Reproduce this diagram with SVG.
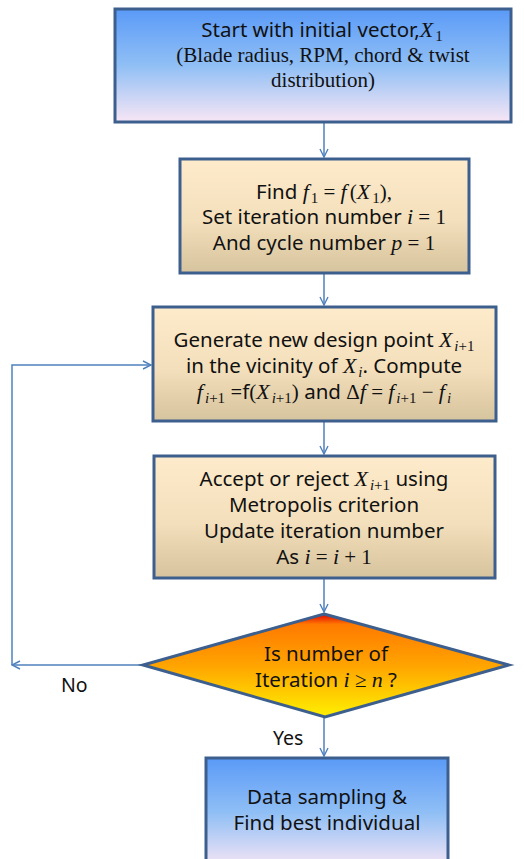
<svg xmlns="http://www.w3.org/2000/svg" width="524" height="859" viewBox="0 0 524 859">
  <defs>
    <linearGradient id="gBlue" x1="0" y1="0" x2="0" y2="1">
      <stop offset="0" stop-color="#5a9af7"/>
      <stop offset="0.5" stop-color="#90bff5"/>
      <stop offset="1" stop-color="#f8e6f5"/>
    </linearGradient>
    <linearGradient id="gTan" x1="0" y1="0" x2="0" y2="1">
      <stop offset="0" stop-color="#feebcb"/>
      <stop offset="0.55" stop-color="#f3dfbb"/>
      <stop offset="1" stop-color="#d6c49e"/>
    </linearGradient>
    <linearGradient id="gDiamond" x1="0" y1="0" x2="0" y2="1">
      <stop offset="0" stop-color="#e00000"/>
      <stop offset="0.1" stop-color="#ff7a00"/>
      <stop offset="0.5" stop-color="#ffa400"/>
      <stop offset="1" stop-color="#fff000"/>
    </linearGradient>
    <marker id="arr" viewBox="0 0 10 10" refX="9" refY="5" markerWidth="10" markerHeight="10" markerUnits="userSpaceOnUse" orient="auto">
      <path d="M1,1 L9,5 L1,9" fill="none" stroke="#4f81bd" stroke-width="1.4"/>
    </marker>
    <style>
      .box { stroke: #3d5f8e; stroke-width: 3; }
      .t { font-family: "Noto Sans", "Open Sans", "DejaVu Sans", sans-serif; font-size: 20.5px; fill: #111; text-anchor: middle; }
      .sf { font-family: "Liberation Serif", "DejaVu Serif", serif; font-size: 21px; fill: #111; text-anchor: middle; }
      .m { font-family: "Liberation Serif", "DejaVu Serif", serif; font-style: italic; font-size: 22px; }
      .mu { font-family: "Liberation Serif", "DejaVu Serif", serif; font-size: 21px; }
      .s { font-family: "Liberation Serif", "DejaVu Serif", serif; font-size: 15px; }
      .si { font-family: "Liberation Serif", "DejaVu Serif", serif; font-style: italic; font-size: 15px; }
      .lbl { font-family: "Noto Sans", "Open Sans", "DejaVu Sans", sans-serif; font-size: 19.5px; fill: #111; }
      .c { fill: none; stroke: #4f81bd; stroke-width: 1.5; }
    </style>
  </defs>

  <!-- flow arrows, loop-back path and branch labels -->
  <g id="connectors">
    <line class="c" x1="324" y1="123" x2="324" y2="157" marker-end="url(#arr)"/>
    <line class="c" x1="324" y1="274" x2="324" y2="305" marker-end="url(#arr)"/>
    <line class="c" x1="324" y1="422" x2="324" y2="454" marker-end="url(#arr)"/>
    <line class="c" x1="324" y1="579" x2="324" y2="612" marker-end="url(#arr)"/>
    <line class="c" x1="324" y1="718" x2="324" y2="756" marker-end="url(#arr)"/>
    <line class="c" x1="142" y1="665" x2="12" y2="665" marker-end="url(#arr)"/>
    <polyline class="c" points="12,665 12,365 151,365" marker-end="url(#arr)"/>
    <text class="lbl" x="61" y="692">No</text>
    <text class="lbl" x="273" y="745">Yes</text>
  </g>

  <g id="start">
    <rect class="box" x="115" y="9" width="396" height="113" fill="url(#gBlue)"/>
    <text class="t" x="322" y="37">Start with initial vector,<tspan class="m">X</tspan><tspan class="s" dx="2" dy="4">1</tspan></text>
    <text class="sf" x="323" y="62">(Blade radius, RPM, chord &amp; twist</text>
    <text class="sf" x="323" y="87">distribution)</text>
  </g>

  <g id="init">
    <rect class="box" x="180" y="159" width="289" height="114" fill="url(#gTan)"/>
    <text class="t" x="324" y="199">Find <tspan class="m">f</tspan><tspan class="s" dx="2" dy="4">1</tspan><tspan class="mu" dy="-4"> = </tspan><tspan class="m">f</tspan><tspan class="mu" dx="3">(</tspan><tspan class="m">X</tspan><tspan class="s" dx="2" dy="4">1</tspan><tspan class="mu" dy="-4">),</tspan></text>
    <text class="t" x="324" y="224">Set iteration number <tspan class="m">i</tspan><tspan class="mu"> = 1</tspan></text>
    <text class="t" x="324" y="250">And cycle number <tspan class="m">p</tspan><tspan class="mu"> = 1</tspan></text>
  </g>

  <g id="generate">
    <rect class="box" x="153" y="307" width="343" height="114" fill="url(#gTan)"/>
    <text class="t" x="324" y="347">Generate new design point <tspan class="m">X</tspan><tspan class="si" dx="2" dy="4">i</tspan><tspan class="s">+1</tspan></text>
    <text class="t" x="324" y="373">in the vicinity of <tspan class="m">X</tspan><tspan class="si" dx="2" dy="4">i</tspan><tspan dy="-4">. Compute</tspan></text>
    <text class="t" x="324" y="399"><tspan class="m">f</tspan><tspan class="si" dx="2" dy="4">i</tspan><tspan class="s">+1</tspan><tspan dy="-4"> =f</tspan><tspan class="mu">(</tspan><tspan class="m">X</tspan><tspan class="si" dx="2" dy="4">i</tspan><tspan class="s">+1</tspan><tspan class="mu" dy="-4">)</tspan> and <tspan class="mu">Δ</tspan><tspan class="m">f</tspan><tspan class="mu"> = </tspan><tspan class="m">f</tspan><tspan class="si" dx="2" dy="4">i</tspan><tspan class="s">+1</tspan><tspan class="mu" dy="-4"> − </tspan><tspan class="m">f</tspan><tspan class="si" dx="2" dy="4">i</tspan></text>
  </g>

  <g id="accept">
    <rect class="box" x="154" y="456" width="341" height="122" fill="url(#gTan)"/>
    <text class="t" x="324" y="486">Accept or reject <tspan class="m">X</tspan><tspan class="si" dx="2" dy="4">i</tspan><tspan class="s">+1</tspan><tspan dy="-4"> using</tspan></text>
    <text class="t" x="324" y="512">Metropolis criterion</text>
    <text class="t" x="324" y="538">Update iteration number</text>
    <text class="t" x="324" y="564">As <tspan class="m">i</tspan><tspan class="mu"> = </tspan><tspan class="m">i</tspan><tspan class="mu"> + 1</tspan></text>
  </g>

  <g id="decision">
    <polygon points="324,614 509,665 325,717 143,665" fill="url(#gDiamond)" stroke="#3d5f8e" stroke-width="3" stroke-linejoin="miter"/>
    <text class="t" x="326" y="661">Is number of</text>
    <text class="t" x="326" y="687">Iteration <tspan class="m">i</tspan><tspan class="mu"> ≥ </tspan><tspan class="m">n</tspan><tspan> ?</tspan></text>
  </g>

  <g id="finish">
    <rect class="box" x="206" y="758" width="242" height="110" fill="url(#gBlue)"/>
    <text class="t" x="327" y="804">Data sampling &amp;</text>
    <text class="t" x="327" y="830">Find best individual</text>
  </g>
</svg>
